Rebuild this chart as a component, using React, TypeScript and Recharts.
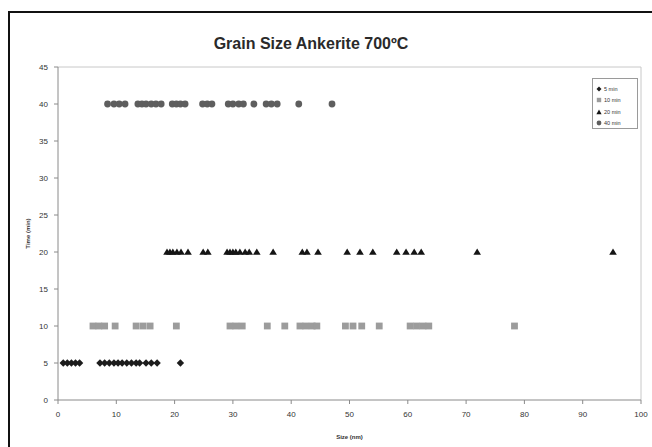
import React from 'react';
import { ScatterChart, Scatter, XAxis, YAxis, ReferenceLine, Legend } from 'recharts';

const xTicks = [0, 10, 20, 30, 40, 50, 60, 70, 80, 90, 100];
const yTicks = [0, 5, 10, 15, 20, 25, 30, 35, 40, 45];

const seriesNames = ['5 min', '10 min', '20 min', '40 min'];
const seriesTimes = [5, 10, 20, 40];

const sizes5min = [0.9, 1.6, 2.3, 3.0, 3.7, 7.2, 8.0, 8.8, 9.6, 10.3, 11.0, 11.8, 12.6, 13.4, 14.0, 15.1, 16.0, 17.0, 21.0];
const sizes10min = [6.0, 7.0, 8.0, 9.8, 13.4, 14.6, 15.8, 20.3, 29.5, 30.5, 31.6, 35.9, 38.9, 41.5, 42.5, 43.6, 44.4, 49.3, 50.6, 52.1, 55.1, 60.4, 61.5, 62.6, 63.6, 78.3];
const sizes20min = [18.7, 19.2, 19.7, 20.4, 21.1, 22.3, 24.9, 25.7, 29.0, 29.5, 30.0, 30.5, 31.2, 32.1, 32.8, 34.1, 36.9, 41.9, 42.7, 44.6, 49.6, 51.8, 54.0, 58.1, 59.7, 61.1, 62.3, 71.9, 95.2];
const sizes40min = [8.5, 9.6, 10.5, 11.5, 13.7, 14.4, 15.1, 16.0, 16.8, 17.7, 19.6, 20.3, 21.0, 21.8, 24.8, 25.6, 26.4, 29.2, 30.0, 31.0, 31.8, 33.6, 35.7, 36.6, 37.6, 41.3, 47.0];

const toPoints = (sizes: number[], t: number) => sizes.map((x) => ({ x, y: t }));

const data5 = toPoints(sizes5min, seriesTimes[0]);
const data10 = toPoints(sizes10min, seriesTimes[1]);
const data20 = toPoints(sizes20min, seriesTimes[2]);
const data40 = toPoints(sizes40min, seriesTimes[3]);

const C5 = '#1c1c1c';
const C10 = '#9c9c9c';
const C20 = '#151515';
const C40 = '#5e5e5e';

const DiamondShape = (p: any) => {
  const { cx, cy } = p;
  const r = 3.7;
  return <path d={`M${cx},${cy - r}L${cx + r},${cy}L${cx},${cy + r}L${cx - r},${cy}Z`} fill={C5} />;
};
const SquareShape = (p: any) => {
  const { cx, cy } = p;
  const h = 3.4;
  return <rect x={cx - h} y={cy - h} width={2 * h} height={2 * h} fill={C10} />;
};
const TriangleShape = (p: any) => {
  const { cx, cy } = p;
  return <path d={`M${cx},${cy - 3.6}L${cx + 3.8},${cy + 2.8}L${cx - 3.8},${cy + 2.8}Z`} fill={C20} />;
};
const CircleShape = (p: any) => {
  const { cx, cy } = p;
  return <circle cx={cx} cy={cy} r={3.4} fill={C40} />;
};

const legendIcon = (i: number) => {
  if (i === 0) return <path d="M3,0.5L5.5,3L3,5.5L0.5,3Z" fill={C5} />;
  if (i === 1) return <rect x={0.8} y={0.8} width={4.4} height={4.4} fill={C10} />;
  if (i === 2) return <path d="M3,0.5L5.6,5.2L0.4,5.2Z" fill={C20} />;
  return <circle cx={3} cy={3} r={2.4} fill={C40} />;
};

const renderLegend = () => (
  <div
    style={{
      border: '1px solid #9a9a9a',
      background: '#fff',
      width: 46,
      height: 51,
      boxSizing: 'border-box',
      padding: '4px 0 0 3px',
      fontFamily: 'Liberation Sans, Arial, sans-serif',
      fontSize: 5.5,
      color: '#333',
    }}
  >
    {seriesNames.map((n, i) => (
      <div key={n} style={{ display: 'flex', alignItems: 'center', height: 11.5 }}>
        <svg width={6} height={6} style={{ marginRight: 2 }}>
          {legendIcon(i)}
        </svg>
        <span>{n}</span>
      </div>
    ))}
  </div>
);

const tickStyle = { fontSize: 8, fill: '#333', fontFamily: 'Liberation Sans, Arial, sans-serif' };

export default function App() {
  return (
    <div
      style={{
        position: 'absolute',
        left: 0,
        top: 0,
        width: 652,
        height: 447,
        overflow: 'hidden',
        background: '#fff',
      }}
    >
      <div
        style={{
          position: 'absolute',
          left: 8,
          top: 11,
          width: 700,
          height: 500,
          borderLeft: '2px solid #111',
          borderTop: '2px solid #111',
        }}
      />
      <div
        style={{
          position: 'absolute',
          left: 0,
          top: 35,
          width: 622,
          textAlign: 'center',
          fontFamily: 'Liberation Sans, Arial, sans-serif',
          fontSize: 16,
          fontWeight: 'bold',
          color: '#2a2a2a',
        }}
      >
        Grain Size Ankerite 700ºC
      </div>
      <div style={{ position: 'absolute', left: 0, top: 0 }}>
        <ScatterChart width={652} height={447} margin={{ top: 67, right: 11, bottom: 17, left: 0 }}>
          <XAxis
            type="number"
            dataKey="x"
            domain={[0, 100]}
            ticks={xTicks}
            interval={0}
            height={30}
            tickSize={4}
            tickMargin={7}
            stroke="#8a8a8a"
            tick={tickStyle}
            label={{
              content: (props: any) => {
                const vb = props.viewBox;
                return (
                  <text
                    x={vb.x + vb.width / 2}
                    y={vb.y + vb.height + 9}
                    textAnchor="middle"
                    fontSize={6}
                    fontWeight="bold"
                    fill="#333"
                    fontFamily="Liberation Sans, Arial, sans-serif"
                  >
                    Size (nm)
                  </text>
                );
              },
            }}
          />
          <YAxis
            type="number"
            dataKey="y"
            domain={[0, 45]}
            ticks={yTicks}
            interval={0}
            width={58}
            tickSize={4}
            tickMargin={6}
            stroke="#8a8a8a"
            tick={tickStyle}
            label={{
              content: (props: any) => {
                const vb = props.viewBox;
                const x = vb.x + 30;
                const y = vb.y + vb.height / 2;
                return (
                  <text
                    x={x}
                    y={y}
                    transform={`rotate(-90 ${x} ${y})`}
                    textAnchor="middle"
                    fontSize={6}
                    fontWeight="bold"
                    fill="#333"
                    fontFamily="Liberation Sans, Arial, sans-serif"
                  >
                    Time (min)
                  </text>
                );
              },
            }}
          />
          <ReferenceLine y={45} stroke="#c8c8c8" />
          <ReferenceLine x={100} stroke="#c8c8c8" />
          <Legend
            layout="vertical"
            align="center"
            verticalAlign="middle"
            wrapperStyle={{ left: 592, top: 78, width: 46, height: 51 }}
            content={renderLegend}
          />
          <Scatter name={seriesNames[0]} data={data5} shape={DiamondShape} isAnimationActive={false} />
          <Scatter name={seriesNames[1]} data={data10} shape={SquareShape} isAnimationActive={false} />
          <Scatter name={seriesNames[2]} data={data20} shape={TriangleShape} isAnimationActive={false} />
          <Scatter name={seriesNames[3]} data={data40} shape={CircleShape} isAnimationActive={false} />
        </ScatterChart>
      </div>
    </div>
  );
}
